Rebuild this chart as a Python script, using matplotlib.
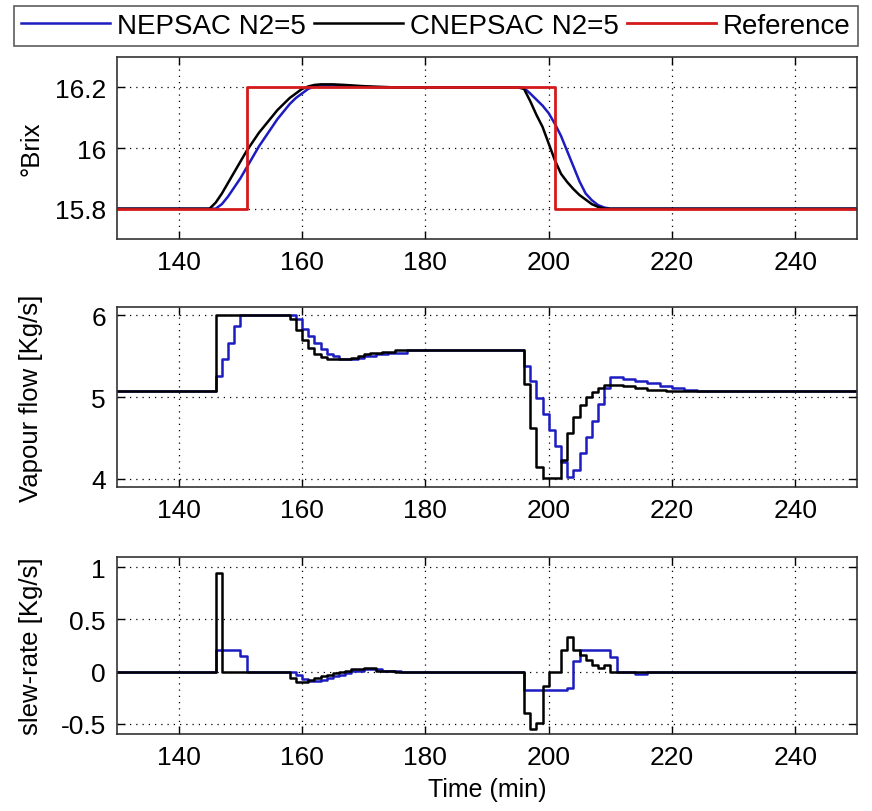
import matplotlib
matplotlib.use('Agg')
import matplotlib.pyplot as plt

plt.rcParams['font.family'] = ['Liberation Sans', 'DejaVu Sans']

# Brix (top)
t_brix_c = [130, 145, 146, 147, 148, 149, 150, 151, 152, 153, 154, 155, 156, 157, 158, 159, 160,
            161, 162, 163, 165, 167, 170, 175, 195, 196, 197, 198, 199, 200, 201, 202, 203, 204,
            205, 206, 207, 208, 209, 250]
brix_c = [15.8, 15.8, 15.82, 15.85, 15.885, 15.92, 15.955, 15.99, 16.02, 16.05, 16.075, 16.10,
          16.125, 16.145, 16.165, 16.18, 16.195, 16.203, 16.208, 16.21, 16.21, 16.208, 16.204,
          16.2, 16.2, 16.195, 16.155, 16.11, 16.07, 16.015, 15.96, 15.915, 15.888, 15.865,
          15.845, 15.83, 15.815, 15.806, 15.8, 15.8]
t_brix_n = [130, 146, 147, 148, 149, 150, 151, 152, 153, 154, 155, 156, 157, 158, 159, 160, 161,
            162, 163, 165, 168, 172, 195, 196, 197, 198, 199, 200, 201, 202, 203, 204, 205, 206,
            207, 208, 209, 210, 250]
brix_n = [15.8, 15.8, 15.815, 15.84, 15.87, 15.90, 15.935, 15.97, 16.005, 16.035, 16.065, 16.095,
          16.12, 16.145, 16.165, 16.18, 16.195, 16.203, 16.207, 16.207, 16.204, 16.2, 16.2,
          16.198, 16.18, 16.16, 16.14, 16.115, 16.08, 16.04, 15.99, 15.94, 15.89, 15.85, 15.828,
          15.812, 15.804, 15.8, 15.8]
t_ref = [130, 151, 201, 250]
brix_ref = [15.8, 16.2, 15.8, 15.8]

# Vapour flow (middle), piecewise constant
t_u_c = [130, 146, 158, 159, 160, 161, 162, 163, 164, 166, 168, 169, 170, 171, 173, 175, 196, 197,
         198, 199, 202, 203, 204, 205, 206, 207, 208, 209, 212, 214, 216, 219, 250]
u_c = [5.07, 6.0, 5.95, 5.82, 5.70, 5.60, 5.53, 5.49, 5.47, 5.46, 5.48, 5.50, 5.52, 5.54, 5.55,
       5.57, 5.16, 4.62, 4.14, 4.01, 4.23, 4.56, 4.75, 4.90, 5.00, 5.06, 5.11, 5.15, 5.13, 5.11,
       5.09, 5.07, 5.07]
t_u_n = [130, 146, 147, 148, 149, 150, 159, 160, 161, 162, 163, 164, 165, 166, 168, 169, 170, 172,
         174, 177, 196, 197, 198, 199, 200, 201, 202, 203, 204, 205, 206, 207, 208, 209, 210, 212,
         214, 216, 218, 220, 222, 224, 250]
u_n = [5.07, 5.26, 5.47, 5.66, 5.87, 6.0, 5.95, 5.83, 5.75, 5.66, 5.59, 5.53, 5.50, 5.47, 5.46,
       5.48, 5.50, 5.52, 5.54, 5.57, 5.38, 5.19, 4.99, 4.79, 4.60, 4.40, 4.20, 4.02, 4.11, 4.31,
       4.51, 4.71, 4.91, 5.11, 5.24, 5.22, 5.20, 5.17, 5.14, 5.11, 5.09, 5.07, 5.07]

# Slew-rate (bottom), piecewise constant
t_s_c = [130, 146, 147, 158, 159, 161, 162, 163, 164, 165, 166, 167, 168, 170, 172, 175, 196, 197,
         198, 199, 200, 202, 203, 204, 205, 206, 207, 208, 209, 210, 250]
s_c = [0, 0.95, 0, -0.06, -0.10, -0.08, -0.06, -0.04, -0.03, -0.01, 0.0, 0.01, 0.02, 0.03, 0.01,
       0.0, -0.40, -0.55, -0.49, -0.14, 0.0, 0.21, 0.33, 0.21, 0.16, 0.11, 0.06, 0.03, 0.06, 0.0, 0.0]
t_s_n = [130, 146, 150, 151, 159, 160, 161, 163, 164, 165, 166, 167, 168, 170, 173, 176, 196, 203,
         204, 205, 210, 211, 214, 216, 250]
s_n = [0, 0.21, 0.15, 0, -0.03, -0.07, -0.09, -0.08, -0.06, -0.04, -0.03, -0.01, 0.01, 0.02, 0.01,
       0, -0.18, -0.16, 0.10, 0.21, 0.14, 0, -0.02, 0, 0]

c_blue = '#1c1cc0'
c_black = 'black'
c_red = '#d41a1a'
lw = 1.8

fig = plt.figure(figsize=(8.72, 8.12), dpi=100)
left, width = 0.1342, 0.8486
ax1 = fig.add_axes([left, 0.7044, width, 0.2241])
ax2 = fig.add_axes([left, 0.399, width, 0.2217])
ax3 = fig.add_axes([left, 0.0948, width, 0.218])

l1, = ax1.plot(t_brix_n, brix_n, color=c_blue, lw=lw)
l2, = ax1.plot(t_brix_c, brix_c, color=c_black, lw=lw)
l3, = ax1.plot(t_ref, brix_ref, color=c_red, lw=lw + 0.2, drawstyle='steps-post')
ax1.set_ylim(15.7, 16.3)
ax1.set_yticks([15.8, 16.0, 16.2])
ax1.set_yticklabels(['15.8', '16', '16.2'])
ax1.set_ylabel('°Brix')

ax2.plot(t_u_n, u_n, color=c_blue, lw=lw, drawstyle='steps-post')
ax2.plot(t_u_c, u_c, color=c_black, lw=lw, drawstyle='steps-post')
ax2.set_ylim(3.9, 6.1)
ax2.set_yticks([4, 5, 6])
ax2.set_ylabel('Vapour flow [Kg/s]')

ax3.plot(t_s_n, s_n, color=c_blue, lw=lw, drawstyle='steps-post')
ax3.plot(t_s_c, s_c, color=c_black, lw=lw, drawstyle='steps-post')
ax3.set_ylim(-0.6, 1.1)
ax3.set_yticks([-0.5, 0, 0.5, 1])
ax3.set_yticklabels(['-0.5', '0', '0.5', '1'])
ax3.set_ylabel('slew-rate [Kg/s]')
ax3.set_xlabel('Time (min)', fontsize=18, labelpad=6)

for ax in (ax1, ax2, ax3):
    ax.set_xlim(130, 250)
    ax.set_xticks([140, 160, 180, 200, 220, 240])
    ax.grid(True, color='black', linestyle=(0, (1, 4)), linewidth=0.9)
    ax.tick_params(direction='in', top=True, right=True, length=6, width=1,
                   labelsize=19, pad=8)
    ax.yaxis.label.set_fontsize(18.5)
    ax.yaxis.set_label_coords(-0.1, 0.5)
    for sp in ax.spines.values():
        sp.set_linewidth(1.2)
        sp.set_color('#333333')

leg = fig.legend([l1, l2, l3], ['NEPSAC N2=5', 'CNEPSAC N2=5', 'Reference'],
                 loc='center', bbox_to_anchor=(0.5, 0.967), ncol=3, fontsize=20,
                 frameon=True, fancybox=False, handlelength=3.2, handletextpad=0.25,
                 columnspacing=0.3, borderpad=0.25, borderaxespad=0)
leg.get_frame().set_edgecolor('#333333')
leg.get_frame().set_linewidth(1.2)

fig.savefig('out.png', dpi=100)
